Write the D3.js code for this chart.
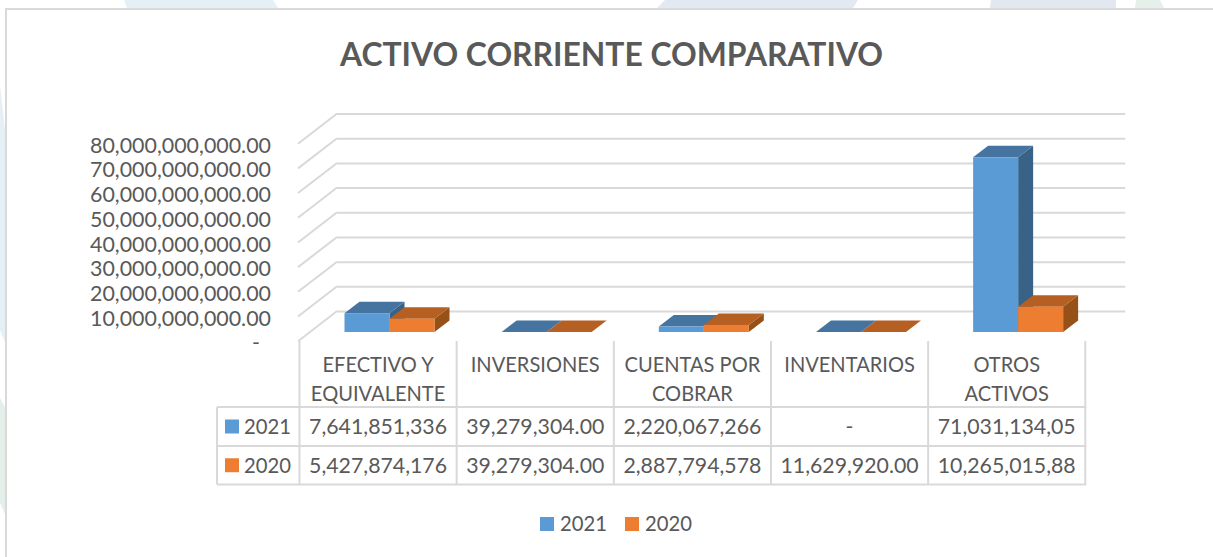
<!DOCTYPE html>
<html><head><meta charset="utf-8">
<script src="https://cdn.jsdelivr.net/npm/d3@7"></script>
<style>html,body{margin:0;padding:0;background:#fff}svg{display:block}text{font-family:Lato,sans-serif;fill:#595959}</style>
</head><body><svg id="c" width="1213" height="557"></svg>
<script>
const categories=[["EFECTIVO Y","EQUIVALENTE"],["INVERSIONES"],["CUENTAS POR","COBRAR"],["INVENTARIOS"],["OTROS","ACTIVOS"]];
const seriesNames=["2021","2020"];
const values2021=[7641851336,39279304,2220067266,0,71031134050];
const values2020=[5427874176,39279304,2887794578,11629920,10265015880];
const labels2021=["7,641,851,336","39,279,304.00","2,220,067,266","-","71,031,134,05"];
const labels2020=["5,427,874,176","39,279,304.00","2,887,794,578","11,629,920.00","10,265,015,88"];
const tickValues=[0,1e10,2e10,3e10,4e10,5e10,6e10,7e10,8e10];
const colors={front:["#5b9bd5","#ed7d31"],top:["#44749f","#b55f22"],side:["#386387","#965119"]};
const title="ACTIVO CORRIENTE COMPARATIVO";

const svg=d3.select("#c");
const G="#d9d9d9",FS=20.4;
[[[124,0],[273,0],[278,8],[127,8],"#e4eff6"],[[665,0],[858,0],[853,8],[657,8],"#e3e9f2"],[[991,0],[1116,0],[1116,8],[990,8],"#e3e7f0"],[[1136,0],[1160,0],[1164,8],[1135,8],"#e5f0ea"],
 [[0,85],[5,130],[5,342],[0,330],"#e4eff6"],[[0,398],[5,407],[5,514],[0,503],"#e5efe9"]].forEach(p=>{
  svg.append("polygon").attr("points",p.slice(0,4).map(q=>q.join(",")).join(" ")).attr("fill",p[4]);
});
svg.append("path").attr("d","M1213,9H6V557").attr("fill","none").attr("stroke",G).attr("stroke-width",2);

const domainY=[0,8e10];
const yBack=d3.scaleLinear().domain(domainY).range([311.5,114]);
const yBar=d3.scaleLinear().domain(domainY).range([332,135.2]);
const yTick=d3.scaleLinear().domain(domainY).range([342.5,145]);
const names=categories.map(c=>c.join(" "));
const x=d3.scaleBand().domain(names).range([299.5,1085.3]);
const sub=d3.scaleBand().domain(seriesNames).range([45,135]);
const depthX=39,depthY=29.7,barDX=15,barDY=11.5;

const grid=svg.append("g").attr("fill","none").attr("stroke",G).attr("stroke-width",2);
tickValues.forEach(v=>{
  grid.append("path").attr("d",`M${x.range()[0]-1.5},${yBack(v)+depthY}L${x.range()[0]+depthX-2},${yBack(v)}H${x.range()[1]+depthX+1}`);
});

// horizontal fit: a reference string of each text group is measured, and the group is stretched to its width
function ratioFor(str,target,size,weight){
  const t=svg.append("text").attr("font-size",size).attr("font-weight",weight||400).text(str);
  const l=t.node().getComputedTextLength();t.remove();return target/l;
}
function fit(sel,ratio){sel.each(function(){const l=this.getComputedTextLength();d3.select(this).attr("textLength",l*ratio).attr("lengthAdjust","spacingAndGlyphs");});return sel;}
const rTick=ratioFor("80,000,000,000.00",181,FS),rCat=ratioFor("INVERSIONES",129,FS),rVal=ratioFor("7,641,851,336",138,FS),rYear=ratioFor("2021",47,FS);

const axis=d3.axisLeft(yTick).tickValues(tickValues).tickSize(0).tickPadding(0)
  .tickFormat(v=>v===0?"-":d3.format(",.2f")(v));
const ax=svg.append("g").attr("transform","translate(271,0)").call(axis);
ax.select(".domain").remove();
ax.selectAll("text").attr("font-size",FS).attr("font-family","Lato").attr("fill","#595959").attr("dy","0.357em").attr("x",v=>v===0?-11:0);
fit(ax.selectAll("text"),rTick);

[values2021,values2020].forEach((vals,s)=>{
  vals.forEach((v,i)=>{
    const x0=x(names[i])+sub(seriesNames[s]),w=sub.bandwidth(),y0=yBar(v),b=yBar(0);
    const g=svg.append("g");
    g.append("polygon").attr("fill",colors.side[s]).attr("points",[[x0+w,y0],[x0+w+barDX,y0-barDY],[x0+w+barDX,b-barDY],[x0+w,b]].join(" "));
    g.append("polygon").attr("fill",colors.top[s]).attr("points",[[x0,y0],[x0+barDX,y0-barDY],[x0+w+barDX,y0-barDY],[x0+w,y0]].join(" "));
    g.append("rect").attr("fill",colors.front[s]).attr("x",x0).attr("y",y0).attr("width",w).attr("height",b-y0);
  });
});

const rowY=[407,446,484.5],tableLeft=217,tableTop=341;
const tbl=svg.append("g").attr("stroke",G).attr("stroke-width",2);
rowY.forEach(y=>tbl.append("line").attr("x1",tableLeft).attr("x2",x.range()[1]+1).attr("y1",y).attr("y2",y));
tbl.append("line").attr("x1",tableLeft).attr("x2",tableLeft).attr("y1",rowY[0]).attr("y2",rowY[2]);
names.concat([null]).forEach(n=>{const X=n?x(n):x.range()[1];tbl.append("line").attr("x1",X).attr("x2",X).attr("y1",tableTop).attr("y2",rowY[2]);});

const center=n=>x(n)+x.bandwidth()/2;
categories.forEach((c,i)=>{
  c.forEach((line,j)=>{
    fit(svg.append("text").attr("x",center(names[i])).attr("y",365+j*28.5).attr("dy","0.357em").attr("text-anchor","middle").attr("font-size",FS).text(line),rCat);
  });
});
[labels2021,labels2020].forEach((row,r)=>{
  const cy=(rowY[r]+rowY[r+1])/2;
  row.forEach((t,i)=>{
    fit(svg.append("text").attr("x",center(names[i])).attr("y",cy).attr("dy","0.357em").attr("text-anchor","middle").attr("font-size",FS).text(t),rVal);
  });
  svg.append("rect").attr("x",225).attr("y",cy-7).attr("width",14).attr("height",14).attr("fill",colors.front[r]);
  fit(svg.append("text").attr("x",244).attr("y",cy).attr("dy","0.357em").attr("font-size",FS).text(seriesNames[r]),rYear);
});

[[540,560],[625,645]].forEach((p,i)=>{
  svg.append("rect").attr("x",p[0]).attr("y",517).attr("width",14).attr("height",14).attr("fill",colors.front[i]);
  fit(svg.append("text").attr("x",p[1]).attr("y",524).attr("dy","0.357em").attr("font-size",FS).text(seriesNames[i]),rYear);
});

svg.append("text").attr("x",611.5).attr("y",54).attr("dy","0.357em").attr("text-anchor","middle").attr("font-size",32.6).attr("font-weight",700).text(title)
  .attr("textLength",543).attr("lengthAdjust","spacingAndGlyphs");
</script></body></html>
